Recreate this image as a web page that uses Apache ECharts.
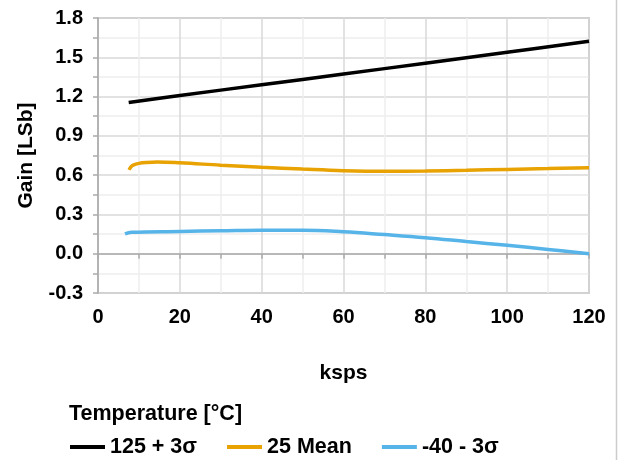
<!DOCTYPE html>
<html>
<head>
<meta charset="utf-8">
<script src="https://cdn.jsdelivr.net/npm/echarts@6/dist/echarts.min.js"></script>
<style>html,body{margin:0;padding:0;background:#fff}#c{width:618px;height:460px}</style>
</head>
<body>
<div id="c"></div>
<script>
const seriesNames = ['125 + 3σ', '25 Mean', '-40 - 3σ'];
const seriesColors = ['#000000', '#E8A202', '#56B4E9'];
const hotX = [7.5, 20, 40, 60, 80, 100, 120];
const hotY = [1.155, 1.208, 1.290, 1.372, 1.455, 1.538, 1.622];
const meanX = [7.6, 8.0, 8.6, 10, 12, 14.5, 20, 30, 40, 50, 60, 70, 80, 90, 100, 110, 120];
const meanY = [0.640, 0.662, 0.677, 0.690, 0.697, 0.700, 0.694, 0.676, 0.660, 0.646, 0.634, 0.629, 0.631, 0.637, 0.644, 0.650, 0.657];
const coldX = [6.6, 8.2, 20, 30, 40, 50, 60, 70, 80, 90, 100, 110, 120];
const coldY = [0.152, 0.164, 0.170, 0.175, 0.180, 0.180, 0.168, 0.146, 0.122, 0.093, 0.064, 0.033, 0.0];
const xTicks = [0, 20, 40, 60, 80, 100, 120];
const yTicks = [-0.3, 0.0, 0.3, 0.6, 0.9, 1.2, 1.5, 1.8];

const font = 'Liberation Sans, Arial, sans-serif';
const zip = (xs, ys) => xs.map((x, i) => [x, ys[i]]);
const chart = echarts.init(document.getElementById('c'), null, {renderer: 'canvas'});
const dataSets = [zip(hotX, hotY), zip(meanX, meanY), zip(coldX, coldY)];
const txt = (s) => ({fontFamily: font, fontSize: s, fontWeight: 'bold', color: '#000'});
const axisCommon = {
  axisLine: {show: true, lineStyle: {color: '#aaaaaa', width: 1.5}},
  axisTick: {show: true, length: 5, lineStyle: {color: '#aaaaaa', width: 1.5}},
  minorTick: {show: true, splitNumber: 2, length: 5, lineStyle: {color: '#aaaaaa', width: 1.5}},
  splitLine: {show: true, lineStyle: {color: '#d9d9d9', width: 1.5}},
  minorSplitLine: {show: true, lineStyle: {color: '#eeeeee', width: 1.5}}
};
chart.setOption({
  animation: false,
  backgroundColor: '#fff',
  textStyle: {fontFamily: font},
  grid: {left: 98, right: 29, top: 18, bottom: 167, containLabel: false,
    outerBoundsMode: 'none',
    show: true, borderColor: '#aaaaaa', borderWidth: 1.5},
  title: {text: 'Temperature [°C]', left: 69, top: 403, padding: 0,
    textStyle: txt(21.5)},
  legend: {left: 70, top: 436, padding: 0, itemWidth: 35, itemHeight: 4, itemGap: 30,
    icon: 'rect', textStyle: txt(21.5), data: seriesNames},
  graphic: [{type: 'line', shape: {x1: 616.5, y1: 0, x2: 616.5, y2: 460},
    style: {stroke: '#cccccc', lineWidth: 1.5}}],
  xAxis: Object.assign({type: 'value', min: xTicks[0], max: xTicks[xTicks.length - 1], interval: 20,
    name: 'ksps', nameLocation: 'middle', nameGap: 70, nameMoveOverlap: false,
    nameTextStyle: txt(21),
    axisLabel: Object.assign({margin: 14}, txt(20))}, axisCommon),
  yAxis: Object.assign({type: 'value', min: yTicks[0], max: yTicks[yTicks.length - 1], interval: 0.3,
    name: 'Gain [LSb]', nameLocation: 'middle', nameGap: 61, nameMoveOverlap: false,
    nameTextStyle: txt(21),
    axisLabel: Object.assign({margin: 15,
      formatter: v => (Math.abs(v) < 1e-9 ? 0 : v).toFixed(1)}, txt(20))}, axisCommon),
  series: seriesNames.map((n, i) => ({
    name: n, type: 'line', data: dataSets[i], smooth: 0.4, showSymbol: false,
    color: seriesColors[i], lineStyle: {width: 3.5, color: seriesColors[i]}
  }))
});
</script>
</body>
</html>
